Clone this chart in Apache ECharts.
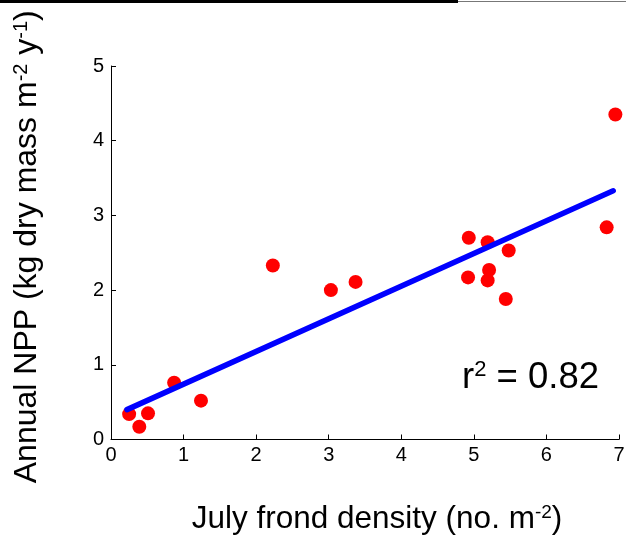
<!DOCTYPE html>
<html>
<head>
<meta charset="utf-8">
<script src="https://cdn.jsdelivr.net/npm/echarts@6/dist/echarts.min.js"></script>
<style>html,body{margin:0;padding:0;background:#fff}#c{width:626px;height:536px}</style>
</head>
<body>
<div id="c"></div>
<script>
// Observed data: July frond density (no. m^-2) vs annual NPP
var frondDensity = [0.25, 0.39, 0.51, 0.87, 1.24, 2.23, 3.03, 3.37, 4.93, 5.19, 5.48, 5.21, 4.92, 5.19, 5.44, 6.83, 6.95];
var annualNPP    = [0.34, 0.17, 0.35, 0.76, 0.52, 2.33, 2.00, 2.11, 2.70, 2.64, 2.53, 2.27, 2.17, 2.13, 1.88, 2.84, 4.35];
// Regression line points
var fitX = [0.22, 6.92];
var fitY = [0.40, 3.33];
var xTicks = [0, 1, 2, 3, 4, 5, 6, 7];
var yTicks = [0, 1, 2, 3, 4, 5];
var r2Label = '0.82';

var pts = frondDensity.map(function (x, i) { return [x, annualNPP[i]]; });
var fit = fitX.map(function (x, i) { return [x, fitY[i]]; });

var font = 'Liberation Sans, Arial, sans-serif';
var chart = echarts.init(document.getElementById('c'), null, {renderer: 'canvas'});
chart.setOption({
  animation: false,
  backgroundColor: '#fff',
  grid: {left: 111, right: 7, top: 66, bottom: 96.5, containLabel: false, outerBoundsMode: 'none'},
  xAxis: {
    type: 'value', min: xTicks[0], max: xTicks[xTicks.length - 1], interval: 1,
    splitLine: {show: false},
    axisLine: {lineStyle: {color: '#000', width: 1}},
    axisTick: {inside: true, length: 5, lineStyle: {color: '#000'}},
    axisLabel: {color: '#000', fontSize: 20, fontFamily: font, margin: 6},
    name: '{a|July frond density (no. m}{s|-2}{a|)}',
    nameLocation: 'middle', nameGap: 64,
    nameTextStyle: {
      padding: [0, 0, 0, 24],
      rich: {
        a: {fontSize: 31.5, fontFamily: font, color: '#000'},
        s: {fontSize: 19, fontFamily: font, color: '#000', verticalAlign: 'top', padding: [0, 0, 13, 0]}
      }
    }
  },
  yAxis: {
    type: 'value', min: yTicks[0], max: yTicks[yTicks.length - 1], interval: 1,
    splitLine: {show: false},
    axisLine: {show: true, lineStyle: {color: '#000', width: 1}},
    axisTick: {show: true, inside: true, length: 5, lineStyle: {color: '#000'}},
    axisLabel: {color: '#000', fontSize: 20, fontFamily: font, margin: 7},
    name: '{a|Annual NPP (kg dry mass m}{s|-2}{a| y}{s|-1}{a|)}',
    nameLocation: 'middle', nameGap: 67, nameRotate: 90,
    nameTextStyle: {
      padding: [0, 0, 0, 12],
      rich: {
        a: {fontSize: 32, fontFamily: font, color: '#000'},
        s: {fontSize: 20, fontFamily: font, color: '#000', verticalAlign: 'top', padding: [0, 0, 13, 0]}
      }
    }
  },
  series: [
    {
      type: 'line', data: fit, symbol: 'none', z: 3,
      lineStyle: {color: '#0000ff', width: 5.5, cap: 'round'}
    },
    {
      type: 'scatter', data: pts, symbol: 'circle', symbolSize: 14, z: 2,
      itemStyle: {color: '#ff0000', opacity: 1}
    }
  ],
  graphic: [
    {type: 'rect', left: 0, top: 0, shape: {width: 458, height: 3}, style: {fill: '#000'}},
    {type: 'line', shape: {x1: 458, y1: 1.5, x2: 626, y2: 1.5}, style: {stroke: '#777', lineWidth: 1}},
    {
      type: 'text', left: 462, top: 359,
      style: {
        text: '{a|r}{s|2}{a| = ' + r2Label + '}',
        rich: {
          a: {fontSize: 36.5, fontFamily: font, fill: '#000'},
          s: {fontSize: 22, fontFamily: font, fill: '#000', verticalAlign: 'top', padding: [0, 0, 15, 0]}
        }
      }
    }
  ]
});
</script>
</body>
</html>
